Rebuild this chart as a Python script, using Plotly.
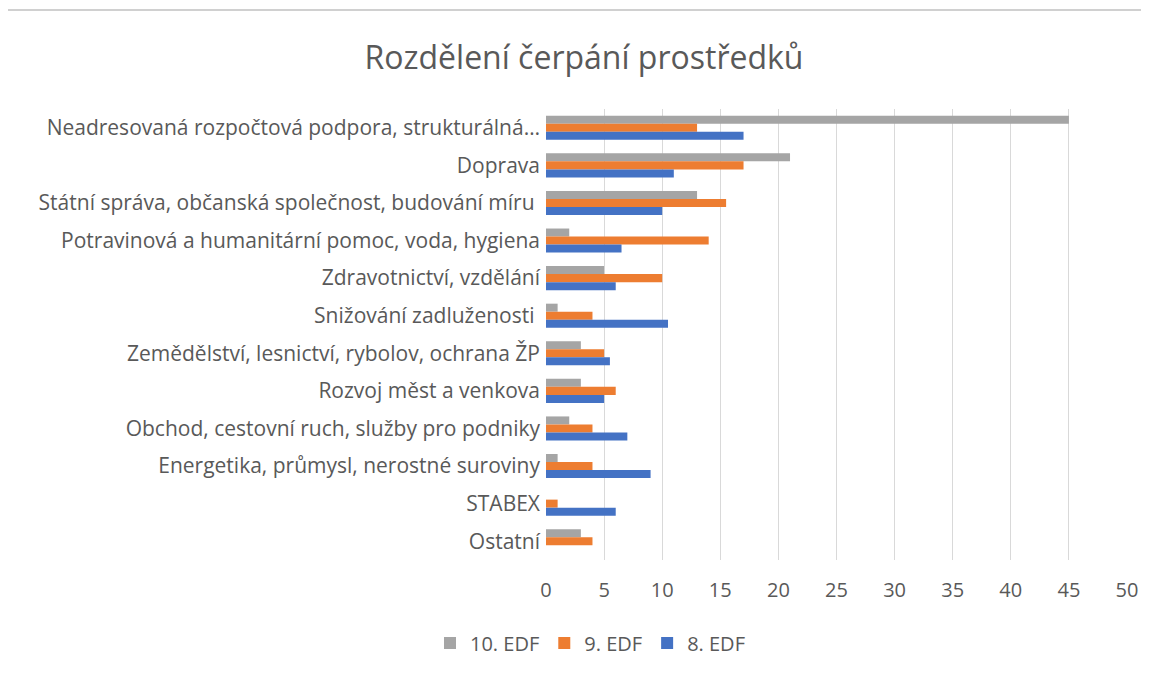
import plotly.graph_objects as go

categories = [
    "Neadresovaná rozpočtová podpora, strukturálná…",
    "Doprava",
    "Státní správa, občanská společnost, budování míru ",
    "Potravinová a humanitární pomoc, voda, hygiena",
    "Zdravotnictví, vzdělání",
    "Snižování zadluženosti ",
    "Zemědělství, lesnictví, rybolov, ochrana ŽP",
    "Rozvoj měst a venkova",
    "Obchod, cestovní ruch, služby pro podniky",
    "Energetika, průmysl, nerostné suroviny",
    "STABEX",
    "Ostatní",
]

edf10 = [45, 21, 13, 2, 5, 1, 3, 3, 2, 1, 0, 3]
edf9 = [13, 17, 15.5, 14, 10, 4, 5, 6, 4, 4, 1, 4]
edf8 = [17, 11, 10, 6.5, 6, 10.5, 5.5, 5, 7, 9, 6, 0]

series = [
    ("10. EDF", edf10, "#A5A5A5"),
    ("9. EDF", edf9, "#ED7D31"),
    ("8. EDF", edf8, "#4472C4"),
]

FONT = "Open Sans"
TXT = "#595959"

# page has an 8px body margin, so the figure is a bit smaller than the window
W, H = 1141, 668

fig = go.Figure()
for name, vals, col in series:
    fig.add_trace(go.Bar(
        y=categories, x=vals, name=name, orientation="h",
        marker=dict(color=col, line=dict(width=0)),
    ))

# chart-area frame: left and top edges, the rest runs off the page
fig.add_shape(
    type="path", xref="paper", yref="paper", layer="above",
    path=f"M {-537/573} -0.25 L {-537/573} {1 + 99/451} L 1.04 {1 + 99/451}",
    line=dict(color="#D0D0D0", width=2),
)

fig.update_layout(
    width=W, height=H,
    paper_bgcolor="white", plot_bgcolor="white",
    barmode="group", bargap=0.36, bargroupgap=0,
    margin=dict(l=538, r=22, t=101, b=116),
    font=dict(family=FONT, size=21, color=TXT),
    title=dict(
        text="Rozdělení čerpání prostředků",
        x=576 / W, xanchor="center", xref="container",
        y=1 - 50 / H, yanchor="middle", yref="container",
        font=dict(family=FONT, size=32, color=TXT),
    ),
    legend=dict(
        orientation="h", x=582 / W, xanchor="center", xref="container",
        y=1 - 635 / H, yanchor="middle", yref="container",
        font=dict(family=FONT, size=20, color=TXT),
        traceorder="normal", itemwidth=30,
    ),
    xaxis=dict(
        range=[0, 50], dtick=5, tick0=0,
        showgrid=True, gridcolor="#D9D9D9", gridwidth=1,
        zeroline=False, showline=False, ticks="",
        ticklabelstandoff=16,
        tickfont=dict(size=20, color=TXT),
    ),
    yaxis=dict(
        autorange="reversed", showgrid=False, zeroline=False,
        showline=False, ticks="", ticklabelstandoff=5,
        tickfont=dict(size=21, color=TXT),
    ),
)

fig.write_html("out.html")
